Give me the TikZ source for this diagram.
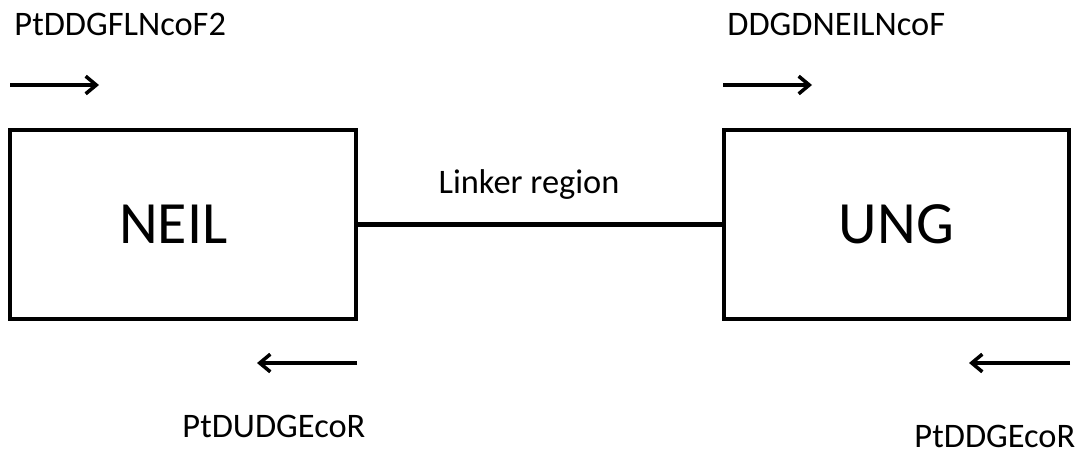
\documentclass[tikz,border=0pt]{standalone}
\usepackage{fontspec}
\setmainfont{Carlito}
\usetikzlibrary{arrows.meta}

\tikzset{
	protbox/.style={draw, line width=2.3pt, minimum width=196pt, minimum height=107pt, inner sep=0pt, font=\fontsize{34}{40}\selectfont},
	primer/.style={anchor=base west, inner sep=0pt, font=\fontsize{19.5}{23}\selectfont},
	dirarrow/.style={-{Straight Barb[length=6pt,width=10pt]}, line width=2pt}
}

\begin{document}
\begin{tikzpicture}[x=0.5669pt, y=-0.5669pt]
\useasboundingbox (0,0) rectangle (1085,452);
% the two domains and the linker between them
\node[protbox] (neil) at (183,224.5) {NEIL\hspace*{11pt}};
\node[protbox] (ung) at (896.5,224.5) {UNG};
\path[draw, line width=2.3pt] (neil) -- (ung);
\node[primer, anchor=base] (linker) at (529,193) {Linker region};
% primers, forward on top, reverse below
\node[primer] (fneil) at (14,35) {PtDDGFLNcoF2};
\node[primer] (fung) at (727,35) {DDGDNEILNcoF};
\node[primer] (rneil) at (182,437) {PtDUDGEcoR};
\node[primer] (rung) at (914,447) {PtDDGEcoR};
\coordinate (fneil-s) at (10,85);   \coordinate (fneil-e) at (99,85);
\coordinate (fung-s) at (723,85);   \coordinate (fung-e) at (812,85);
\coordinate (rneil-s) at (357,363); \coordinate (rneil-e) at (257,363);
\coordinate (rung-s) at (1070,363); \coordinate (rung-e) at (969,363);
\path[dirarrow]
(fneil-s) edge (fneil-e)
(fung-s) edge (fung-e)
(rneil-s) edge (rneil-e)
(rung-s) edge (rung-e);
\end{tikzpicture}
\end{document}
